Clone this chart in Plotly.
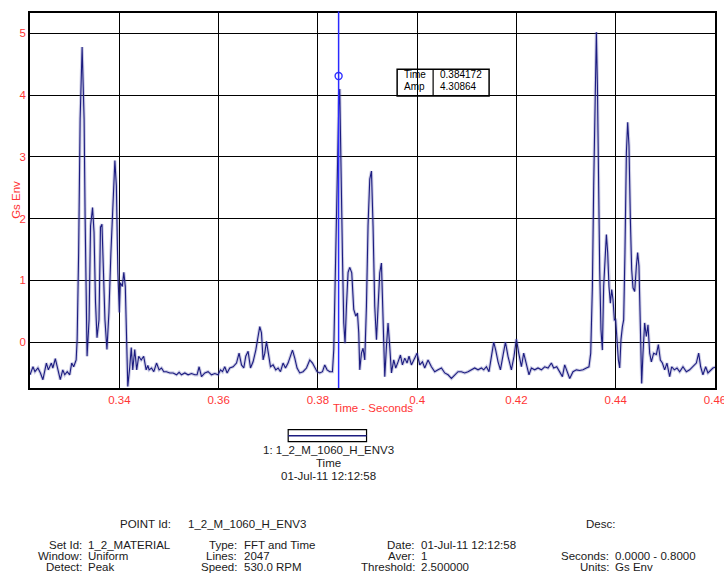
import plotly.graph_objects as go

# ---------------- data ----------------
time_s = [
    0.3220, 0.3226, 0.3230, 0.3236, 0.3241, 0.3246, 0.3253, 0.3257, 0.3263, 0.3266,
    0.3271, 0.3276, 0.3281, 0.3286, 0.3290, 0.3295, 0.3300, 0.3304, 0.3308, 0.3313,
    0.3315, 0.3318, 0.3321, 0.3325, 0.3329, 0.3331, 0.3335, 0.3339, 0.3342, 0.3346,
    0.3349, 0.3352, 0.3355, 0.3359, 0.3362, 0.3365, 0.3368, 0.3371, 0.3375, 0.3379,
    0.3383, 0.3387, 0.3391, 0.3394, 0.3397, 0.3400, 0.3402, 0.3406, 0.3409, 0.3412,
    0.3415, 0.3417, 0.3421, 0.3424, 0.3427, 0.3431, 0.3435, 0.3439, 0.3444, 0.3449,
    0.3454,
    0.34574, 0.34600, 0.34648, 0.34694, 0.34749, 0.34801, 0.34849, 0.34896, 0.34950, 0.35017,
    0.35083, 0.35152, 0.35204, 0.35252, 0.35319, 0.35385, 0.35454, 0.35520, 0.35566, 0.35607,
    0.35655, 0.35722, 0.35788, 0.35856, 0.35923, 0.35989, 0.36038, 0.36078, 0.36124, 0.36171,
    0.36225, 0.36292, 0.36360, 0.36412, 0.36461, 0.36507, 0.36547, 0.36594, 0.36642, 0.36694,
    0.36749, 0.36795, 0.36829, 0.36863, 0.36896, 0.36930, 0.36964, 0.36996, 0.37045, 0.37097,
    0.37151, 0.37198, 0.37246, 0.37298, 0.37347, 0.37399, 0.37448, 0.37488, 0.37534, 0.37580,
    0.37635, 0.37701, 0.37770, 0.37836, 0.37891, 0.37937, 0.37983, 0.38038, 0.38092, 0.38138,
    0.38185, 0.38239, 0.38293,
    0.38320, 0.38354, 0.38386, 0.38420, 0.38440, 0.38461, 0.38495, 0.38521, 0.38547, 0.38575,
    0.38608, 0.38642, 0.38682, 0.38722, 0.38763, 0.38797, 0.38823, 0.38843, 0.38877, 0.38910,
    0.38944, 0.38978, 0.39010, 0.39045, 0.39079, 0.39111, 0.39145, 0.39180, 0.39212, 0.39246,
    0.39280, 0.39313, 0.39347, 0.39381, 0.39413, 0.39447, 0.39482, 0.39528, 0.39568, 0.39615,
    0.39663, 0.39703, 0.39750, 0.39796, 0.39836, 0.39884, 0.39931,
    0.39997, 0.40052, 0.40106, 0.40152, 0.40219, 0.40287, 0.40354, 0.40420, 0.40489, 0.40555,
    0.40622, 0.40690, 0.40757, 0.40823, 0.40891, 0.40958, 0.41024, 0.41093, 0.41159, 0.41226,
    0.41294, 0.41341, 0.41395, 0.41447, 0.41496, 0.41542, 0.41582, 0.41629, 0.41677, 0.41729,
    0.41778, 0.41830, 0.41898, 0.41951, 0.41999, 0.42046, 0.42100, 0.42146, 0.42201, 0.42253,
    0.42301, 0.42368, 0.42434, 0.42503, 0.42569, 0.42636, 0.42704, 0.42750, 0.42811, 0.42871,
    0.42926, 0.42972, 0.43026, 0.43073, 0.43139, 0.43208, 0.43274, 0.43341, 0.43409, 0.43461,
    0.43496, 0.43530, 0.43556, 0.43582, 0.43610, 0.43631, 0.43651, 0.43677, 0.43703, 0.43731,
    0.43757, 0.43784, 0.43812, 0.43838, 0.43864, 0.43892, 0.43919, 0.43945, 0.43973, 0.43999,
    0.44025, 0.44053, 0.44080, 0.44106, 0.44134, 0.44160, 0.44186, 0.44215, 0.44241, 0.44267,
    0.44295, 0.44321, 0.44348, 0.44382, 0.44416, 0.44442, 0.44468, 0.44497, 0.44523, 0.44549,
    0.44583, 0.44617, 0.44650, 0.44684, 0.44718, 0.44764, 0.44819, 0.44859, 0.44899, 0.44940,
    0.44986, 0.45032, 0.45087, 0.45127, 0.45181, 0.45234, 0.45288, 0.45355, 0.45423, 0.45489,
    0.45556, 0.45624, 0.45671, 0.45711, 0.45757, 0.45812, 0.45858, 0.45912, 0.45959, 0.46027,
]

amp_gs = [
    -0.53, -0.40, -0.48, -0.42, -0.50, -0.61, -0.34, -0.45, -0.34, -0.42,
    -0.27, -0.45, -0.61, -0.45, -0.53, -0.48, -0.53, -0.34, -0.40, -0.29,
    0.04, 1.45, 3.61, 4.78, 3.61, 2.04, -0.23, 0.36, 1.88, 2.18,
    1.78, 0.64, 0.07, 0.36, 1.86, 1.91, 1.29, 0.36, -0.12, 0.48,
    1.45, 2.31, 2.94, 2.53, 1.13, 0.48, 0.96, 0.90, 1.13, 0.90,
    -0.17, -0.72, -0.40, -0.09, -0.45, -0.12, -0.45, -0.23, -0.29, -0.23,
    -0.45,
    -0.38, -0.45, -0.42, -0.48, -0.34, -0.45, -0.42, -0.48, -0.48, -0.50,
    -0.50, -0.53, -0.49, -0.53, -0.50, -0.53, -0.51, -0.53, -0.53, -0.40,
    -0.56, -0.50, -0.48, -0.53, -0.51, -0.53, -0.45, -0.48, -0.40, -0.50,
    -0.42, -0.40, -0.34, -0.18, -0.37, -0.42, -0.23, -0.15, -0.42, -0.32,
    -0.13, 0.09, 0.25, 0.15, -0.29, -0.18, 0.01, -0.15, -0.40, -0.37,
    -0.45, -0.42, -0.48, -0.34, -0.42, -0.34, -0.21, -0.13, -0.26, -0.42,
    -0.50, -0.48, -0.42, -0.29, -0.34, -0.40, -0.48, -0.50, -0.48, -0.37,
    -0.45, -0.48, -0.48,
    -0.12, 1.13, 2.75, 3.83, 4.10, 3.29, 1.39, 0.31, -0.02, 0.58,
    1.13, 1.21, 1.12, 0.53, 0.42, 0.47, 0.15, -0.45, -0.18, -0.10,
    -0.29, 0.58, 1.88, 2.64, 2.77, 1.88, 0.58, 0.04, 0.47, 1.12,
    1.28, 0.31, -0.56, -0.07, 0.31, -0.07, -0.50, -0.29, -0.42, -0.32,
    -0.21, -0.37, -0.26, -0.34, -0.23, -0.37, -0.29,
    -0.18, -0.37, -0.32, -0.42, -0.29, -0.40, -0.48, -0.45, -0.42, -0.50,
    -0.53, -0.59, -0.53, -0.48, -0.48, -0.50, -0.48, -0.45, -0.42, -0.45,
    -0.42, -0.45, -0.40, -0.48, -0.23, 0.00, -0.13, -0.32, -0.45, -0.18,
    0.00, -0.23, -0.45, -0.23, 0.05, -0.18, -0.40, -0.18, -0.35, -0.53,
    -0.42, -0.45, -0.42, -0.45, -0.40, -0.42, -0.34, -0.42, -0.40, -0.48,
    -0.56, -0.37, -0.48, -0.59, -0.48, -0.45, -0.46, -0.45, -0.42, -0.40,
    -0.18, 0.90, 2.53, 4.16, 5.02, 4.16, 2.53, 1.18, 0.20, -0.13,
    0.90, 1.45, 1.74, 1.45, 0.90, 0.63, 0.85, 0.69, 0.36, 0.36,
    0.04, -0.29, -0.42, 0.04, 0.25, 0.36, 1.45, 3.07, 3.56, 3.18,
    1.99, 1.18, 0.88, 0.82, 1.23, 1.45, 1.23, 0.36, -0.67, -0.18,
    0.31, 0.09, 0.28, -0.18, -0.32, -0.18, -0.20, -0.04, -0.29, -0.34,
    -0.45, -0.34, -0.56, -0.40, -0.45, -0.42, -0.48, -0.40, -0.48, -0.45,
    -0.40, -0.34, -0.18, -0.40, -0.53, -0.40, -0.50, -0.45, -0.42, -0.40,
]

cursor_time = 0.384172
cursor_amp = 4.30864

x_ticks = [0.34, 0.36, 0.38, 0.40, 0.42, 0.44, 0.46]
x_tick_labels = ["0.34", "0.36", "0.38", "0.4", "0.42", "0.44", "0.46"]
y_ticks = [0, 1, 2, 3, 4, 5]
y_tick_labels = ["0", "1", "2", "3", "4", "5"]

legend_lines = ["1: 1_2_M_1060_H_ENV3", "Time", "01-Jul-11 12:12:58"]

col1 = [("Set Id:", "1_2_MATERIAL"), ("Window:", "Uniform"), ("Detect:", "Peak")]
col2 = [("Type:", "FFT and Time"), ("Lines:", "2047"), ("Speed:", "530.0 RPM")]
col3 = [("Date:", "01-Jul-11 12:12:58"), ("Aver:", "1"), ("Threshold:", "2.500000")]
col4 = [(None, None), ("Seconds:", "0.0000 - 0.8000"), ("Units:", "Gs Env")]

# ---------------- layout helpers (pixel -> paper) ----------------
W, H = 724, 578
PL, PR, PT, PB = 30, 715.3, 13, 388.3


def px(x):
    return (x - PL) / (PR - PL)


def py(y):
    return (PB - y) / (PB - PT)


FONT = "Liberation Sans, Arial, sans-serif"
RED = "#ff3535"
NAVY = "#1c1c80"
TXT = "#1a1a1a"

fig = go.Figure()
# soft halo under the trace (anti-aliased look of the original)
fig.add_trace(go.Scatter(x=time_s, y=amp_gs, mode="lines",
                         line=dict(color="rgba(90,90,170,0.30)", width=3.2),
                         hoverinfo="skip", showlegend=False))
fig.add_trace(go.Scatter(x=time_s, y=amp_gs, mode="lines",
                         line=dict(color=NAVY, width=1.1),
                         showlegend=False))
fig.add_trace(go.Scatter(x=[cursor_time], y=[cursor_amp], mode="markers",
                         marker=dict(symbol="circle-open", size=7, color="#3030ff",
                                     line=dict(width=1.4, color="#3030ff")),
                         showlegend=False))

axis_common = dict(showgrid=True, gridcolor="black", gridwidth=1.3,
                   showline=True, linecolor="black", linewidth=1.5, mirror=True,
                   ticks="", zeroline=False, automargin=False,
                   ticklabeloverflow="allow", ticklabelstandoff=0,
                   tickfont=dict(family=FONT, size=11.5, color=RED))

fig.update_layout(
    width=W, height=H,
    margin=dict(l=PL, r=W - PR, t=PT, b=H - PB, pad=0),
    paper_bgcolor="white", plot_bgcolor="white",
    showlegend=False,
    xaxis=dict(range=[0.3220, 0.4600], tickvals=x_ticks, ticktext=x_tick_labels,
               **axis_common),
    yaxis=dict(range=[-0.744, 5.33], tickvals=y_ticks, ticktext=y_tick_labels,
               **axis_common),
)

shapes = []
# cursor line
shapes.append(dict(type="line", xref="x", yref="paper", x0=cursor_time, x1=cursor_time,
                   y0=0, y1=1.004, line=dict(color="#2a2aff", width=1.5), layer="above"))
# readout box (no fill)
shapes.append(dict(type="rect", xref="paper", yref="paper",
                   x0=px(397.3), x1=px(489.3), y0=py(96), y1=py(69.3),
                   line=dict(color="black", width=1.5)))
shapes.append(dict(type="line", xref="paper", yref="paper",
                   x0=px(433.3), x1=px(433.3), y0=py(96), y1=py(69.3),
                   line=dict(color="black", width=1.2)))
# legend swatch box
shapes.append(dict(type="rect", xref="paper", yref="paper",
                   x0=px(288.3), x1=px(366.7), y0=py(442), y1=py(430),
                   line=dict(color="black", width=1.2)))
shapes.append(dict(type="line", xref="paper", yref="paper",
                   x0=px(288.3), x1=px(366.7), y0=py(436), y1=py(436),
                   line=dict(color=NAVY, width=1.5)))
fig.update_layout(shapes=shapes)

ann = []


def text(x, y, s, anchor="left", size=11.5, color=TXT, angle=0):
    ann.append(dict(xref="paper", yref="paper", x=px(x), y=py(y), text=s,
                    showarrow=False, xanchor=anchor, yanchor="middle",
                    textangle=angle, borderpad=0,
                    font=dict(family=FONT, size=size, color=color)))


# axis titles
text(16, 200, "Gs Env", anchor="center", color=RED, angle=-90)
text(373.5, 408.3, "Time - Seconds", anchor="center", color=RED)

# readout text
text(403, 74.3, "Time", size=10, color="black")
text(403, 86.7, "Amp", size=10, color="black")
text(439, 74.3, f"{cursor_time:.6f}", size=10, color="black")
text(439, 86.7, f"{cursor_amp:.5f}", size=10, color="black")

# legend text
for i, s in enumerate(legend_lines):
    text(328.3, 450.7 + i * 13.0, s, anchor="center")

# info block
text(172, 524.7, "POINT Id:", anchor="right")
text(187, 524.7, "1_2_M_1060_H_ENV3")
text(585, 524.7, "Desc:")
row_y = [545.3, 556.2, 567.2]
for col, (lx, vx) in zip([col1, col2, col3, col4],
                         [(83.5, 87), (238.5, 243), (416, 420), (610, 614)]):
    for (lab, val), yy in zip(col, row_y):
        if lab is None:
            continue
        text(lx, yy, lab, anchor="right")
        text(vx, yy, val)

fig.update_layout(annotations=ann)

fig.write_html("out.html", config={"displayModeBar": False},
               post_script="document.body.style.margin='0px';document.body.style.overflow='hidden';")
